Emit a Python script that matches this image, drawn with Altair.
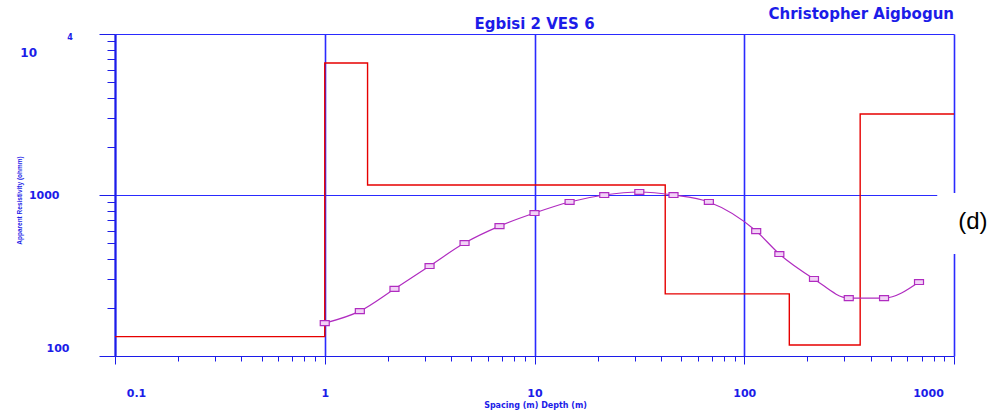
import altair as alt
import pandas as pd

BLUE = "#1c1ce8"
GRID_BLUE = "#2a2aff"
RED = "#e60000"
PURPLE = "#b02cc0"

# Layered model (step line): top of each layer (m) and its resistivity (ohm-m)
layer_top = [0.1, 1.0, 1.6, 42.0, 164.0, 357.0, 1000.0]
layer_rho = [132, 6607, 1153, 243, 117, 3185, 3185]

# Measured apparent resistivity points and the fitted curve through them
spacing = [1.0, 1.47, 2.15, 3.16, 4.64, 6.81, 10.0, 14.7, 21.5, 31.6, 46.0, 67.8,
           114.0, 147.0, 215.0, 315.0, 464.0, 681.0]
app_rho = [160, 190, 261, 362, 503, 641, 773, 905, 1000, 1044, 1000, 905,
           597, 430, 301, 229, 229, 288]

# Axis ticks
x_ticks = [0.1, 0.2, 0.3, 0.4, 0.5, 0.6, 0.7, 0.8, 0.9,
           1, 2, 3, 4, 5, 6, 7, 8, 9,
           10, 20, 30, 40, 50, 60, 70, 80, 90,
           100, 200, 300, 400, 500, 600, 700, 800, 900, 1000]
y_ticks = [100, 200, 300, 400, 500, 600, 700, 800, 900,
           1000, 2000, 3000, 4000, 5000, 6000, 7000, 8000, 9000, 10000]

title_text = "Egbisi 2 VES 6"
author_text = "Christopher Aigbogun"
panel_text = "(d)"
x_title = "Spacing (m) Depth (m)"
y_title = "Apparent Resistivity (ohmm)"

xs = alt.Scale(type="log", domain=[0.1, 1000], nice=False)
ys = alt.Scale(type="log", domain=[100, 10000], nice=False)

x_major_test = "indexof([0.1, 1, 10, 100, 1000], datum.value) >= 0"
y_major_test = "indexof([100, 1000, 10000], datum.value) >= 0"

x_axis = alt.Axis(
    values=x_ticks,
    title=x_title,
    titleX=420, titleY=49, titleAlign="center", titleBaseline="middle",
    titleFont="DejaVu Sans", titleFontWeight="bold", titleFontSize=8, titleColor=BLUE,
    labelExpr=x_major_test + " ? toString(datum.value) : ''",
    labelFont="DejaVu Sans", labelFontWeight="bold", labelFontSize=11, labelColor=BLUE,
    labelPadding=29, labelOverlap=False, labelBaseline="middle", labelFlush=False,
    labelOffset={"condition": [{"test": "datum.value == 0.1", "value": 21},
                               {"test": "datum.value == 1000", "value": -26}],
                 "value": 0},
    tickColor=BLUE, tickWidth=1,
    tickSize={"condition": {"test": x_major_test, "value": 8}, "value": 5},
    domainColor=BLUE, domainWidth=1,
    grid=True, gridColor=GRID_BLUE, gridWidth=1.6,
    gridOpacity={"condition": {"test": x_major_test, "value": 1}, "value": 0},
)

y_axis = alt.Axis(
    values=y_ticks,
    title=y_title,
    titleX=-96, titleY=166, titleAngle=270, titleAlign="center", titleBaseline="middle",
    titleFont="Liberation Sans", titleFontWeight="bold", titleFontSize=6.5, titleColor=BLUE,
    labelExpr="(datum.value == 100 || datum.value == 1000) ? toString(datum.value) : ''",
    labelFont="DejaVu Sans", labelFontWeight="bold", labelFontSize=11, labelColor=BLUE,
    labelPadding={"condition": {"test": "datum.value == 100", "value": 30}, "value": 40},
    labelOffset={"condition": {"test": "datum.value == 100", "value": -8}, "value": 0},
    labelOverlap=False,
    tickColor=BLUE, tickWidth=1,
    tickSize={"condition": {"test": y_major_test, "value": 16}, "value": 8},
    domainColor=BLUE, domainWidth=2,
    grid=True, gridColor=GRID_BLUE, gridWidth=1,
    gridOpacity={"condition": {"test": "datum.value == 1000 || datum.value == 10000", "value": 1},
                 "value": 0},
)

model_df = pd.DataFrame({"depth": layer_top, "rho": layer_rho})
obs_df = pd.DataFrame({"spacing": spacing, "rho": app_rho})

model = alt.Chart(model_df).mark_line(
    interpolate="step-after", color=RED, strokeWidth=1.4
).encode(
    x=alt.X("depth:Q", scale=xs, axis=x_axis),
    y=alt.Y("rho:Q", scale=ys, axis=y_axis),
)

curve = alt.Chart(obs_df).mark_line(
    interpolate="monotone", color=PURPLE, strokeWidth=1.2
).encode(
    x=alt.X("spacing:Q", scale=xs),
    y=alt.Y("rho:Q", scale=ys),
)

pts = alt.Chart(obs_df).mark_point(
    shape="M-1,-0.55H1V0.55H-1Z", size=81, filled=True,
    fill="#f2d2f6", stroke=PURPLE, strokeWidth=1.2, opacity=1
).encode(
    x=alt.X("spacing:Q", scale=xs),
    y=alt.Y("rho:Q", scale=ys),
)

blank = alt.Chart().mark_rect(fill="white").encode(
    x=alt.datum(832), x2=alt.datum(5000),
    y=alt.datum(1029), y2=alt.datum(430),
)

panel = alt.Chart().mark_text(
    text=panel_text, font="Liberation Sans", fontSize=24, color="black",
    align="center", baseline="middle"
).encode(x=alt.datum(1231), y=alt.datum(680))

title = alt.Chart().mark_text(
    text=title_text, font="DejaVu Sans", fontWeight="bold", fontSize=15, color=BLUE,
    align="center", baseline="alphabetic", dy=-5
).encode(x=alt.datum(10), y=alt.datum(10000))

author = alt.Chart().mark_text(
    text=author_text, font="DejaVu Sans", fontWeight="bold", fontSize=15, color=BLUE,
    align="right", baseline="alphabetic", dy=-15
).encode(x=alt.datum(1000), y=alt.datum(10000))

ten = alt.Chart().mark_text(
    text="10", font="DejaVu Sans", fontWeight="bold", fontSize=12, color=BLUE,
    align="right", baseline="middle", dx=-78, dy=19
).encode(x=alt.datum(0.1), y=alt.datum(10000))

four = alt.Chart().mark_text(
    text="4", font="DejaVu Sans", fontWeight="bold", fontSize=8, color=BLUE,
    align="center", baseline="middle", dx=-45, dy=4
).encode(x=alt.datum(0.1), y=alt.datum(10000))

chart = alt.layer(model, curve, pts, blank, panel, title, author, ten, four).properties(
    width=839, height=322,
    autosize=alt.AutoSizeParams(type="none"),
    padding={"left": 115, "top": 34, "right": 40, "bottom": 59},
    background="white",
).configure_view(stroke=None)

chart.save("out.html", embed_options={"renderer": "svg", "actions": False})
